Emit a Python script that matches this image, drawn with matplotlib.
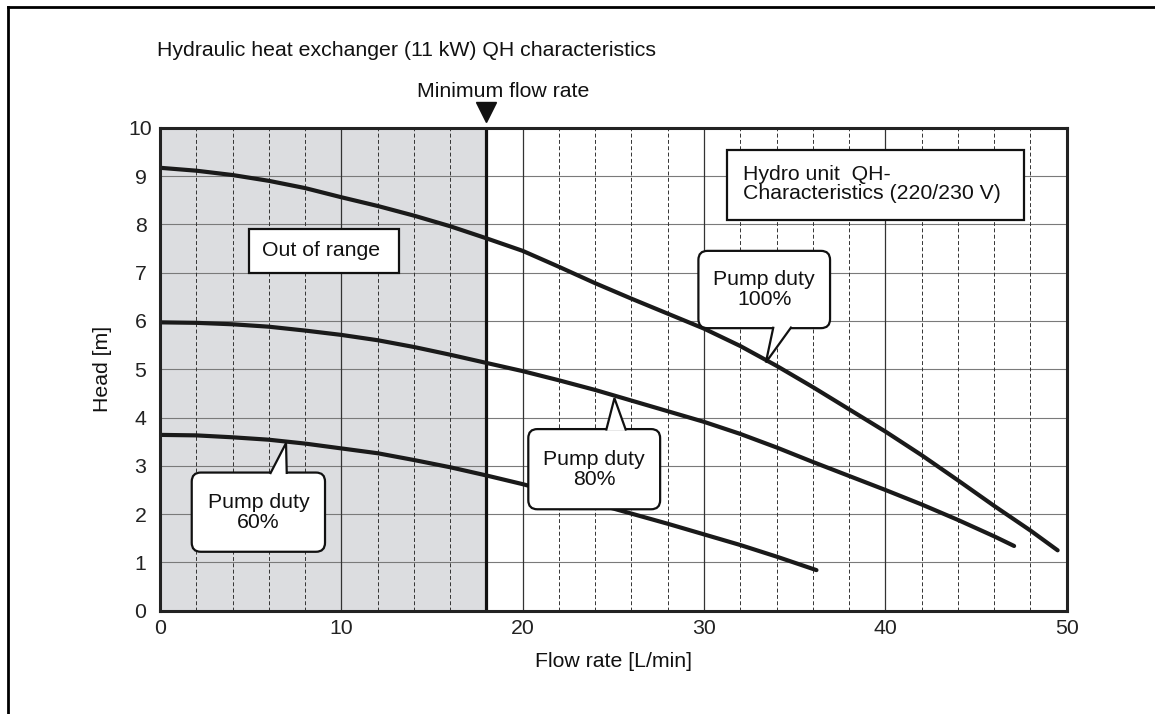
import numpy as np
import matplotlib
matplotlib.use("Agg")
import matplotlib.pyplot as plt
from matplotlib.patches import FancyBboxPatch, Polygon, Rectangle
from matplotlib.lines import Line2D

plt.rcParams['font.family'] = ['Liberation Sans', 'DejaVu Sans']

# pump curves
q100 = [0, 2, 4, 6, 8, 10, 12, 14, 16, 18, 20, 22, 24, 26, 28, 30, 32, 34, 36, 38, 40, 42, 44, 46, 48, 49.5]
h100 = [9.17, 9.11, 9.02, 8.90, 8.75, 8.56, 8.38, 8.18, 7.96, 7.71, 7.45, 7.12, 6.78, 6.46, 6.15, 5.84, 5.48,
        5.07, 4.63, 4.17, 3.71, 3.22, 2.70, 2.17, 1.66, 1.25]
q80 = [0, 2, 4, 6, 8, 10, 12, 14, 16, 18, 20, 22, 24, 26, 28, 30, 32, 34, 36, 38, 40, 42, 44, 46, 47.1]
h80 = [5.97, 5.96, 5.93, 5.88, 5.80, 5.71, 5.60, 5.46, 5.30, 5.13, 4.96, 4.77, 4.57, 4.35, 4.13, 3.91, 3.66,
       3.38, 3.08, 2.79, 2.50, 2.20, 1.88, 1.54, 1.34]
q60 = [0, 2, 4, 6, 8, 10, 12, 14, 16, 18, 20, 22, 24, 26, 28, 30, 32, 34, 36.2]
h60 = [3.64, 3.63, 3.59, 3.54, 3.46, 3.36, 3.26, 3.12, 2.97, 2.80, 2.62, 2.42, 2.22, 2.01, 1.80, 1.58, 1.36,
       1.12, 0.84]

min_flow = 18
x_ticks = [0, 10, 20, 30, 40, 50]
y_ticks = list(range(0, 11))

FS = 15.3

fig = plt.figure(figsize=(11.55, 7.14), dpi=100)
ax = fig.add_axes([160 / 1155, 1 - 610.7 / 714, 906.7 / 1155, 483 / 714])

ax.set_xlim(0, 50)
ax.set_ylim(0, 10)

# out of range area
ax.axvspan(0, min_flow, color="#dcdde0", zorder=0, lw=0)

# grid
for y in y_ticks[1:-1]:
    ax.axhline(y, color="#7a7a7a", lw=0.8, zorder=1)
for x in np.arange(2, 50, 2):
    if x % 10 == 0:
        ax.axvline(x, color="#333333", lw=0.9, zorder=1)
    else:
        ax.axvline(x, color="#333333", lw=0.7, ls=(0, (4, 2.5)), zorder=1)

ax.axvline(min_flow, color="#111111", lw=2.3, zorder=2)

for q, h in [(q100, h100), (q80, h80), (q60, h60)]:
    ax.plot(q, h, color="#1a1a1a", lw=3, solid_capstyle="round", solid_joinstyle="round", zorder=3)

ax.set_xticks(x_ticks)
ax.set_yticks(y_ticks)
ax.tick_params(length=0, labelsize=FS, colors="#222222")
ax.tick_params(axis="x", pad=6)
ax.tick_params(axis="y", pad=14)
for lab in ax.get_yticklabels():
    lab.set_ha("center")
for s in ax.spines.values():
    s.set_linewidth(2.2)
    s.set_color("#222222")
    s.set_zorder(6)

ax.set_xlabel("Flow rate [L/min]", fontsize=FS, labelpad=10, color="#111111")
ax.set_ylabel("Head [m]", fontsize=FS, labelpad=12, color="#111111")

# minimum flow marker
ax.plot([min_flow], [10.33], marker="v", ms=15, color="#111111", clip_on=False, zorder=7)
ax.text(18.9, 10.75, "Minimum flow rate", ha="center", va="center", fontsize=FS, color="#111111")

# square boxes
ax.add_patch(Rectangle((4.93, 7.0), 13.2 - 4.93, 0.9, fc="white", ec="#111111", lw=1.6, zorder=4))
ax.text(5.6, 7.45, "Out of range", ha="left", va="center", fontsize=FS, color="#111111", zorder=5)

ax.add_patch(Rectangle((31.29, 8.09), 47.62 - 31.29, 9.54 - 8.09, fc="white", ec="#111111", lw=1.6, zorder=4))
ax.text(32.15, 8.83, "Hydro unit  QH-\nCharacteristics (220/230 V)", ha="left", va="center",
        fontsize=FS, linespacing=1.0, color="#111111", zorder=5)

# rounded callouts with tails
aspect = 18.13 / 48.3


def callout(x0, x1, y0, y1, base, tip, text, side):
    ax.add_patch(FancyBboxPatch((x0, y0), x1 - x0, y1 - y0,
                                boxstyle="round,pad=0,rounding_size=0.5", mutation_aspect=aspect,
                                fc="white", ec="#111111", lw=1.6, zorder=4))
    ye = y0 + 0.03 if side == "bottom" else y1 - 0.03
    ax.add_patch(Polygon([(base[0], ye), tip, (base[1], ye)], closed=False,
                         fc="white", ec="#111111", lw=1.6, joinstyle="miter", zorder=4.5))
    ax.text((x0 + x1) / 2, (y0 + y1) / 2, text, ha="center", va="center", fontsize=FS,
            linespacing=1.06, color="#111111", zorder=5)


callout(29.69, 36.95, 5.85, 7.45, (33.83, 34.83), (33.41, 5.14), "Pump duty\n100%", "bottom")
callout(20.31, 27.58, 2.10, 3.76, (24.60, 25.70), (25.06, 4.40), "Pump duty\n80%", "top")
callout(1.75, 9.10, 1.22, 2.86, (6.07, 6.99), (6.95, 3.47), "Pump duty\n60%", "top")

fig.text(157 / 1155, 1 - 50 / 714, "Hydraulic heat exchanger (11 kW) QH characteristics",
         ha="left", va="center", fontsize=FS, color="#111111")

# outer frame (top and left edge)
fig.add_artist(Line2D([8 / 1155, 1], [1 - 7 / 714, 1 - 7 / 714], color="black", lw=2))
fig.add_artist(Line2D([8 / 1155, 8 / 1155], [0, 1 - 7 / 714], color="black", lw=2))

fig.savefig("out.png", dpi=100)
